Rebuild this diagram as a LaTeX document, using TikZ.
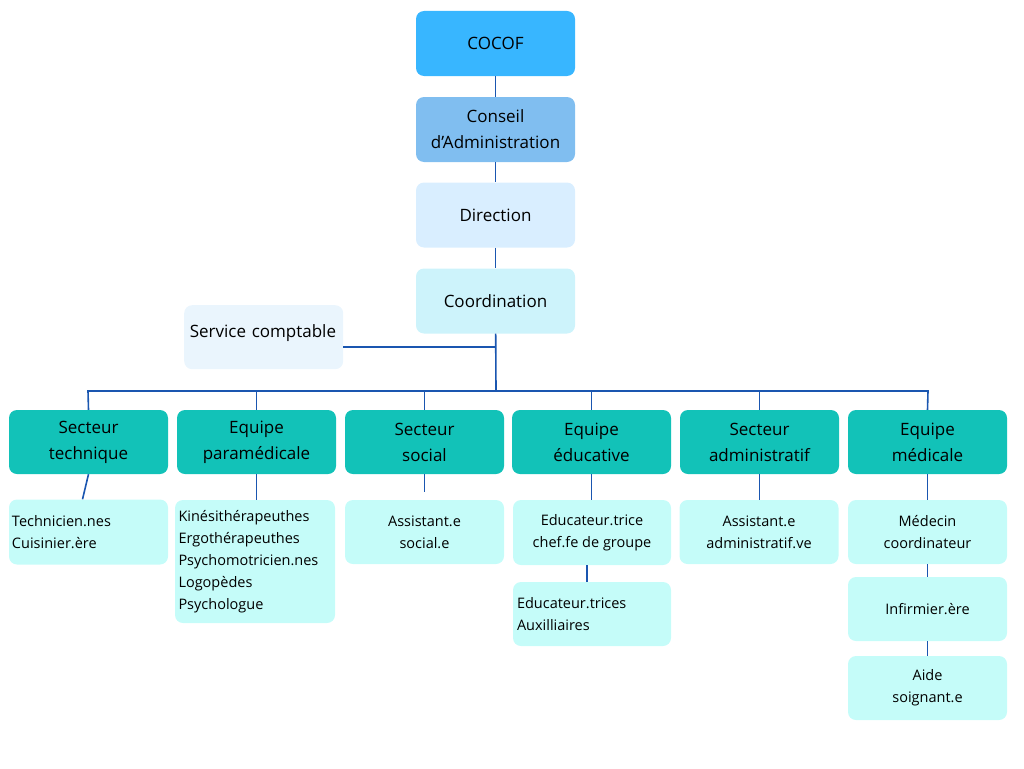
\documentclass[tikz,border=0pt]{standalone}
\usepackage{fontspec}
\setmainfont{Open Sans}
\definecolor{cocof}{HTML}{38B6FF}
\definecolor{conseil}{HTML}{80BEF0}
\definecolor{direction}{HTML}{D9EEFF}
\definecolor{coord}{HTML}{CDF3FB}
\definecolor{service}{HTML}{EAF5FD}
\definecolor{secteur}{HTML}{12C2B8}
\definecolor{sub}{HTML}{C5FCF9}
\definecolor{trait}{HTML}{1A56B0}
\begin{document}
\begin{tikzpicture}[x=1pt, y=-1pt,
                    every node/.style={text centered, align=center, rounded corners=8pt, inner sep=0pt},
                    top/.style={minimum width=159pt, minimum height=65pt, font=\fontsize{17}{26}\selectfont},
                    sect/.style={fill=secteur, minimum width=159pt, minimum height=64pt, font=\fontsize{17}{26}\selectfont},
                    sub/.style={fill=sub, minimum width=159pt, font=\fontsize{14.5}{22}\selectfont},
                    link/.style={trait, line width=1.6pt}]
      \useasboundingbox (0,0) rectangle (1024,768);
      \node[top, fill=cocof] (cocof) at (495.5, 43.5) {COCOF};
      \node[top, fill=conseil] (conseil) at (495.5, 129.5) {Conseil\\d’Administration};
      \node[top, fill=direction] (direction) at (495.5, 215) {Direction};
      \node[top, fill=coord] (coordination) at (495.5, 301) {Coordination};
      \node[top, fill=service, anchor=north west, text width=159pt, minimum height=64pt, align=left] (service) at (184, 305) {\raisebox{12pt}{\ Service comptable}};
      \coordinate (nexus) at (496, 391);
      \node[sect] (technique) at (88.5, 442) {Secteur\\technique};
      \node[sect] (paramedicale) at (256.5, 442) {Equipe\\paramédicale};
      \node[sect] (social) at (424.5, 442) {Secteur\\social};
      \node[sect] (educative) at (591.5, 442) {Equipe\\éducative};
      \node[sect] (administratif) at (759.5, 442) {Secteur\\administratif};
      \node[sect] (medicale) at (927.5, 442) {Equipe\\médicale};
      \node[sub, minimum height=65pt, text width=153pt, align=left] (techniciens) at (88.5, 532) {Technicien.nes\\Cuisinier.ère};
      \node[sub, minimum height=123pt, minimum width=160pt, text width=153pt, align=left] (therapeutes) at (255, 561.5) {Kinésithérapeuthes\\Ergothérapeuthes\\Psychomotricien.nes\\Logopèdes\\Psychologue};
      \node[sub, minimum height=64pt] (assistant_social) at (424.5, 532) {Assistant.e\\social.e};
      \node[sub, minimum height=65pt, minimum width=158pt] (chef) at (592, 532.5) {Educateur.trice\\chef.fe de groupe};
      \node[sub, minimum height=64pt, minimum width=158pt, text width=150pt, align=left] (auxiliaires) at (592, 614) {Educateur.trices\\Auxilliaires};
      \node[sub, minimum height=64pt] (assistant_admin) at (759, 532) {Assistant.e\\administratif.ve};
      \node[sub, minimum height=64pt] (medecin) at (927.5, 532) {Médecin\\coordinateur};
      \node[sub, minimum height=64pt] (infirmier) at (927.5, 609) {Infirmier.ère};
      \node[sub, minimum height=64pt] (aide) at (927.5, 688) {Aide\\soignant.e};
      % hiérarchie
      \draw[link] (cocof) -- (conseil);
      \draw[link] (conseil) -- (direction);
      \draw[link] (direction) -- (coordination);
      \draw[link] (coordination) -- (nexus);
      \draw[link] (service.east |- 0,347) -- (496, 347);
      \draw[link] (technique.north) -- (88, 391) -- (928, 391) -- (medicale.north);
      \foreach \s in {paramedicale, social, educative, administratif}
        \draw[link] (\s.north) -- (\s.north |- nexus);
      \draw[link] (technique.south) -- ([xshift=-6pt]techniciens.north);
      \draw[link] (paramedicale) -- (paramedicale |- therapeutes.north);
      \draw[link] (social.south) -- (424.5, 492);
      \draw[link] (educative) -- (educative |- chef.north);
      \draw[link] (chef.south -| 587,0) -- (587, 582);
      \draw[link] (administratif) -- (administratif |- assistant_admin.north);
      \draw[link] (medicale) -- (medecin);
      \draw[link] (medecin) -- (infirmier);
      \draw[link] (infirmier) -- (aide);
\end{tikzpicture}
\end{document}
